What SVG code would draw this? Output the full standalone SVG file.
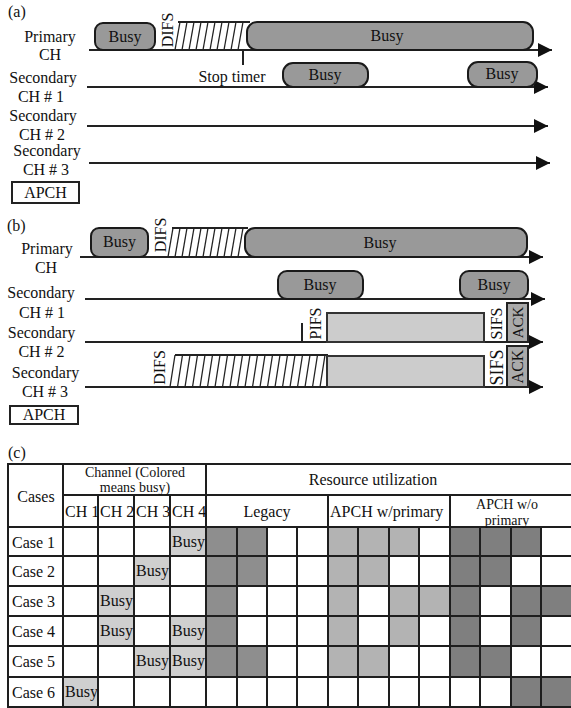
<svg xmlns="http://www.w3.org/2000/svg" width="571" height="708" viewBox="0 0 571 708" font-family="Liberation Serif, Times New Roman, serif">
<style>
text{font-family:"Liberation Serif","Times New Roman",serif;font-size:16px;fill:#111}
.m{text-anchor:middle}
.ch{stroke:#222;stroke-width:2;fill:none}
.busy{fill:#999;stroke:#1a1a1a;stroke-width:2}
.lt{fill:#ccc;stroke:#333;stroke-width:2}
.ack{fill:#aaa;stroke:#222;stroke-width:2}
.h{stroke:#222;stroke-width:1.3}
.ht{stroke:#222;stroke-width:2}
.g{stroke:#1e1e1e;stroke-width:2;fill:none}
.cb{fill:#cfcfcf}
.lg{fill:#8e8e8e}
.wp{fill:#b3b3b3}
.wo{fill:#7f7f7f}
.box{fill:#fff;stroke:#222;stroke-width:2}
.t2{font-size:14px}
</style>
<defs>
<marker id="arr" markerUnits="userSpaceOnUse" markerWidth="14" markerHeight="14" refX="14" refY="7" orient="auto">
<path d="M0,0 L14,7 L0,14 z" fill="#111"/>
</marker>
</defs>

<!-- (a) -->
<text x="8" y="17">(a)</text>
<g id="a-labels">
<text class="m" x="50" y="42">Primary</text>
<text class="m" x="50" y="60">CH</text>
<text class="m" x="43" y="83">Secondary</text>
<text class="m" x="41" y="102">CH # 1</text>
<text class="m" x="43" y="121">Secondary</text>
<text class="m" x="42" y="140">CH # 2</text>
<text class="m" x="47" y="156">Secondary</text>
<text class="m" x="46" y="175">CH # 3</text>
</g>
<g id="a-apch"><rect class="box" x="12" y="182" width="67" height="21"/><text class="m" x="45.5" y="198">APCH</text></g>

<g id="a-connectors">
<line class="ch" x1="89" y1="50" x2="552" y2="50" marker-end="url(#arr)"/>
<line class="ch" x1="87" y1="87" x2="548" y2="87" marker-end="url(#arr)"/>
<line class="ch" x1="87" y1="126" x2="548" y2="126" marker-end="url(#arr)"/>
<line class="ch" x1="89" y1="163" x2="550" y2="163" marker-end="url(#arr)"/>
<line class="ch" x1="243" y1="50" x2="243" y2="65"/>
</g>

<g id="a-busy1"><rect class="busy" x="95" y="23" width="60" height="27" rx="8"/><text class="m" x="125" y="42">Busy</text></g>
<g id="a-difs"><text class="m" transform="translate(173,30) rotate(-90)">DIFS</text></g>
<g id="a-hatch">
<line class="ht" x1="178" y1="22" x2="250" y2="22"/>
<line class="h" x1="175" y1="50" x2="180" y2="22"/>
<line class="h" x1="182" y1="50" x2="187" y2="22"/>
<line class="h" x1="189" y1="50" x2="194" y2="22"/>
<line class="h" x1="196" y1="50" x2="201" y2="22"/>
<line class="h" x1="203" y1="50" x2="208" y2="22"/>
<line class="h" x1="210" y1="50" x2="215" y2="22"/>
<line class="h" x1="217" y1="50" x2="222" y2="22"/>
<line class="h" x1="224" y1="50" x2="229" y2="22"/>
<line class="h" x1="231" y1="50" x2="236" y2="22"/>
<line class="h" x1="238" y1="50" x2="243" y2="22"/>
</g>
<g id="a-busy2"><rect class="busy" x="247" y="22" width="286" height="28" rx="10"/><text class="m" x="387" y="41">Busy</text></g>
<g id="a-stop"><text class="m" x="232" y="82">Stop timer</text></g>
<g id="a-busy3"><rect class="busy" x="283" y="63" width="85" height="24" rx="10"/><text class="m" x="325" y="80">Busy</text></g>
<g id="a-busy4"><rect class="busy" x="468" y="62" width="69" height="25" rx="10"/><text class="m" x="502" y="79">Busy</text></g>

<!-- (b) -->
<text x="7" y="231">(b)</text>
<g id="b-labels">
<text class="m" x="47" y="254">Primary</text>
<text class="m" x="46" y="273">CH</text>
<text class="m" x="41" y="298">Secondary</text>
<text class="m" x="42" y="318">CH # 1</text>
<text class="m" x="41.5" y="338">Secondary</text>
<text class="m" x="41.5" y="357">CH # 2</text>
<text class="m" x="45.5" y="378">Secondary</text>
<text class="m" x="45" y="397">CH # 3</text>
</g>
<g id="b-apch"><rect class="box" x="10" y="406" width="68" height="18"/><text class="m" x="44" y="420">APCH</text></g>

<g id="b-connectors">
<line class="ch" x1="80" y1="257" x2="543" y2="257" marker-end="url(#arr)"/>
<line class="ch" x1="85" y1="299" x2="545" y2="299" marker-end="url(#arr)"/>
<line class="ch" x1="85" y1="342" x2="543" y2="342" marker-end="url(#arr)"/>
<line class="ch" x1="85" y1="387" x2="543" y2="387" marker-end="url(#arr)"/>
<line class="ch" x1="302" y1="323" x2="302" y2="342"/>
</g>

<g id="b-busy1"><rect class="busy" x="91" y="228" width="57" height="29" rx="8"/><text class="m" x="119.5" y="247">Busy</text></g>
<g id="b-difs1"><text class="m" transform="translate(166,235) rotate(-90)">DIFS</text></g>
<g id="b-hatch1">
<line class="ht" x1="172" y1="228" x2="248" y2="228"/>
<line class="h" x1="168" y1="257" x2="173" y2="228"/>
<line class="h" x1="175" y1="257" x2="180" y2="228"/>
<line class="h" x1="182" y1="257" x2="187" y2="228"/>
<line class="h" x1="189" y1="257" x2="194" y2="228"/>
<line class="h" x1="196" y1="257" x2="201" y2="228"/>
<line class="h" x1="203" y1="257" x2="208" y2="228"/>
<line class="h" x1="210" y1="257" x2="215" y2="228"/>
<line class="h" x1="217" y1="257" x2="222" y2="228"/>
<line class="h" x1="224" y1="257" x2="229" y2="228"/>
<line class="h" x1="231" y1="257" x2="236" y2="228"/>
<line class="h" x1="238" y1="257" x2="243" y2="228"/>
</g>
<g id="b-busy2"><rect class="busy" x="245" y="228" width="282" height="29" rx="10"/><text class="m" x="380" y="248">Busy</text></g>
<g id="b-busy3"><rect class="busy" x="278" y="271" width="85" height="28" rx="9"/><text class="m" x="320" y="290">Busy</text></g>
<g id="b-busy4"><rect class="busy" x="460" y="271" width="68" height="28" rx="9"/><text class="m" x="494" y="290">Busy</text></g>

<g id="b-pifs"><text class="m" transform="translate(321,323.5) rotate(-90)">PIFS</text></g>
<g id="b-data2"><rect class="lt" x="327" y="313" width="157" height="29"/></g>
<g id="b-sifs2"><text class="m" transform="translate(502,323.5) rotate(-90)">SIFS</text></g>
<g id="b-ack2"><rect class="ack" x="507" y="303" width="21" height="39"/><text class="m" transform="translate(523,322.5) rotate(-90)" style="font-size:15px">ACK</text></g>

<g id="b-difs3"><text class="m" transform="translate(165,367.5) rotate(-90)">DIFS</text></g>
<g id="b-hatch3">
<line class="ht" x1="175" y1="355" x2="328" y2="355"/>
<line class="h" x1="170" y1="387" x2="175" y2="355"/>
<line class="h" x1="177.5" y1="387" x2="182.5" y2="355"/>
<line class="h" x1="185" y1="387" x2="190" y2="355"/>
<line class="h" x1="192.5" y1="387" x2="197.5" y2="355"/>
<line class="h" x1="200" y1="387" x2="205" y2="355"/>
<line class="h" x1="207.5" y1="387" x2="212.5" y2="355"/>
<line class="h" x1="215" y1="387" x2="220" y2="355"/>
<line class="h" x1="222.5" y1="387" x2="227.5" y2="355"/>
<line class="h" x1="230" y1="387" x2="235" y2="355"/>
<line class="h" x1="237.5" y1="387" x2="242.5" y2="355"/>
<line class="h" x1="245" y1="387" x2="250" y2="355"/>
<line class="h" x1="252.5" y1="387" x2="257.5" y2="355"/>
<line class="h" x1="260" y1="387" x2="265" y2="355"/>
<line class="h" x1="267.5" y1="387" x2="272.5" y2="355"/>
<line class="h" x1="275" y1="387" x2="280" y2="355"/>
<line class="h" x1="282.5" y1="387" x2="287.5" y2="355"/>
<line class="h" x1="290" y1="387" x2="295" y2="355"/>
<line class="h" x1="297.5" y1="387" x2="302.5" y2="355"/>
<line class="h" x1="305" y1="387" x2="310" y2="355"/>
<line class="h" x1="312.5" y1="387" x2="317.5" y2="355"/>
<line class="h" x1="320" y1="387" x2="325" y2="355"/>
</g>
<g id="b-data3"><rect class="lt" x="327" y="356" width="157" height="31"/></g>
<g id="b-sifs3"><text class="m" transform="translate(503,367.5) rotate(-90)" style="font-size:18px">SIFS</text></g>
<g id="b-ack3"><rect class="ack" x="507" y="346" width="21" height="41"/><text class="m" transform="translate(523,366.5) rotate(-90)" style="font-size:16px">ACK</text></g>

<!-- (c) -->
<text x="8" y="458">(c)</text>
<g id="table">
<g id="cells">
<rect class="cb" x="170" y="527" width="36" height="29"/>
<rect class="cb" x="134" y="556" width="36" height="30"/>
<rect class="cb" x="98" y="586" width="36" height="30"/>
<rect class="cb" x="98" y="616" width="36" height="30"/>
<rect class="cb" x="170" y="616" width="36" height="30"/>
<rect class="cb" x="134" y="646" width="36" height="31"/>
<rect class="cb" x="170" y="646" width="36" height="31"/>
<rect class="cb" x="63" y="677" width="35" height="30"/>
<rect class="lg" x="206" y="527" width="61" height="29"/>
<rect class="lg" x="206" y="556" width="61" height="30"/>
<rect class="lg" x="206" y="586" width="31" height="30"/>
<rect class="lg" x="206" y="616" width="31" height="30"/>
<rect class="lg" x="206" y="646" width="61" height="31"/>
<rect class="wp" x="328" y="527" width="91" height="29"/>
<rect class="wp" x="328" y="556" width="61" height="30"/>
<rect class="wp" x="328" y="586" width="30" height="30"/>
<rect class="wp" x="389" y="586" width="61" height="30"/>
<rect class="wp" x="328" y="616" width="30" height="30"/>
<rect class="wp" x="389" y="616" width="30" height="30"/>
<rect class="wp" x="328" y="646" width="61" height="31"/>
<rect class="wo" x="450" y="527" width="91" height="29"/>
<rect class="wo" x="450" y="556" width="61" height="30"/>
<rect class="wo" x="450" y="586" width="30" height="30"/>
<rect class="wo" x="511" y="586" width="60" height="30"/>
<rect class="wo" x="450" y="616" width="30" height="30"/>
<rect class="wo" x="511" y="616" width="30" height="30"/>
<rect class="wo" x="450" y="646" width="61" height="31"/>
<rect class="wo" x="511" y="677" width="60" height="30"/>
</g>
<g id="grid">
<line class="g" x1="8" y1="464" x2="571" y2="464"/>
<line class="g" x1="63" y1="495" x2="571" y2="495"/>
<line class="g" x1="8" y1="527" x2="571" y2="527"/>
<line class="g" x1="8" y1="556" x2="571" y2="556"/>
<line class="g" x1="8" y1="586" x2="571" y2="586"/>
<line class="g" x1="8" y1="616" x2="571" y2="616"/>
<line class="g" x1="8" y1="646" x2="571" y2="646"/>
<line class="g" x1="8" y1="677" x2="571" y2="677"/>
<line class="g" x1="8" y1="707" x2="571" y2="707"/>
<line class="g" x1="8" y1="463" x2="8" y2="708"/>
<line class="g" x1="63" y1="464" x2="63" y2="707"/>
<line class="g" x1="206" y1="464" x2="206" y2="707"/>
<line class="g" x1="98" y1="495" x2="98" y2="707"/>
<line class="g" x1="134" y1="495" x2="134" y2="707"/>
<line class="g" x1="170" y1="495" x2="170" y2="707"/>
<line class="g" x1="328" y1="495" x2="328" y2="707"/>
<line class="g" x1="450" y1="495" x2="450" y2="707"/>
<line class="g" x1="237" y1="527" x2="237" y2="707"/>
<line class="g" x1="267" y1="527" x2="267" y2="707"/>
<line class="g" x1="297" y1="527" x2="297" y2="707"/>
<line class="g" x1="358" y1="527" x2="358" y2="707"/>
<line class="g" x1="389" y1="527" x2="389" y2="707"/>
<line class="g" x1="419" y1="527" x2="419" y2="707"/>
<line class="g" x1="480" y1="527" x2="480" y2="707"/>
<line class="g" x1="511" y1="527" x2="511" y2="707"/>
<line class="g" x1="541" y1="527" x2="541" y2="707"/>
</g>
<g id="headers">
<text class="m" x="36" y="502">Cases</text>
<text class="m t2" x="135" y="476.5">Channel (Colored</text>
<text class="m t2" x="135" y="492">means busy)</text>
<text class="m" x="373" y="485">Resource utilization</text>
<text x="65" y="517">CH 1</text>
<text x="100" y="517">CH 2</text>
<text x="136" y="517">CH 3</text>
<text x="172" y="517">CH 4</text>
<text class="m" x="267" y="517">Legacy</text>
<text x="330" y="517">APCH w/primary</text>
<text class="m t2" x="507" y="509">APCH w/o</text>
<text class="m t2" x="507" y="524.5">primary</text>
</g>
<g id="rows">
<text x="12" y="548">Case 1</text>
<text x="12" y="577">Case 2</text>
<text x="12" y="607">Case 3</text>
<text x="12" y="637">Case 4</text>
<text x="12" y="667">Case 5</text>
<text x="12" y="698">Case 6</text>
<text x="172" y="547">Busy</text>
<text x="136" y="576">Busy</text>
<text x="100" y="606">Busy</text>
<text x="100" y="636">Busy</text>
<text x="172" y="636">Busy</text>
<text x="136" y="666">Busy</text>
<text x="172" y="666">Busy</text>
<text x="65" y="697">Busy</text>
</g>
</g>
</svg>
